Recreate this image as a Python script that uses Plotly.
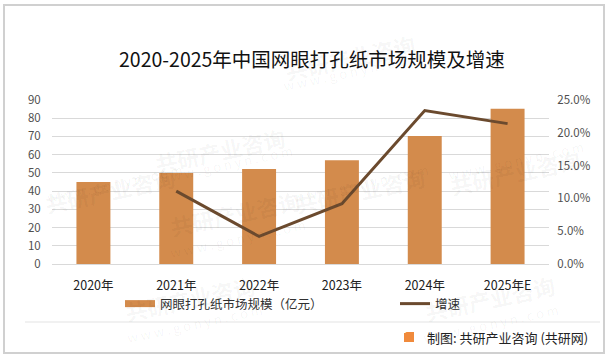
import plotly.graph_objects as go

categories = ["2020年", "2021年", "2022年", "2023年", "2024年", "2025年E"]
market_size = [45.0, 50.0, 52.1, 56.9, 70.2, 85.2]
growth_cats = ["2021年", "2022年", "2023年", "2024年", "2025年E"]
growth_rate = [0.111, 0.042, 0.092, 0.234, 0.214]

bar_name = "网眼打孔纸市场规模（亿元）"
line_name = "增速"
title_text = "2020-2025年中国网眼打孔纸市场规模及增速"
source_text = "制图: 共研产业咨询 (共研网)"

FONT = "Noto Sans CJK SC"
BAR_COLOR = "#D38B4C"
LINE_COLOR = "#6B4A2E"

# plot area in pixels: x 52..549, y 100..264
L, R, T, B = 52, 549, 100, 264
def px(x):
    return (x - L) / (R - L)
def py(y):
    return (B - y) / (B - T)

fig = go.Figure()
fig.add_trace(go.Bar(
    x=categories, y=market_size, name=bar_name,
    marker=dict(color=BAR_COLOR, line=dict(width=0)),
    yaxis="y", showlegend=False,
))
# legend proxy for the bar series (wide flat swatch as in the reference)
fig.add_trace(go.Scatter(
    x=[None], y=[None], name=bar_name, mode="lines",
    line=dict(color=BAR_COLOR, width=7), legend="legend", showlegend=True,
))
fig.add_trace(go.Scatter(
    x=growth_cats, y=growth_rate, name=line_name, mode="lines",
    line=dict(color=LINE_COLOR, width=3),
    yaxis="y2", legend="legend2", showlegend=True,
))

wm = []
for (x, y) in [(150, 118), (420, 25), (235, 245), (430, 190), (585, 140), (40, 190), (120, 330), (560, 330)]:
    wm.append(dict(xref="paper", yref="paper", x=px(x), y=py(y), text="<b>共研产业咨询</b>",
                   showarrow=False, textangle=-12,
                   font=dict(size=22, color="rgba(0,0,0,0.045)", family=FONT)))
    wm.append(dict(xref="paper", yref="paper", x=px(x + 3), y=py(y + 20), text="w w w . g o n y n . c o m",
                   showarrow=False, textangle=-12,
                   font=dict(size=13, color="rgba(0,0,0,0.045)", family=FONT)))

fig.update_layout(
    width=610, height=360,
    margin=dict(l=L, r=610 - R, t=T, b=360 - B, autoexpand=False),
    paper_bgcolor="white", plot_bgcolor="white",
    font=dict(family=FONT, color="#404040"),
    bargap=0.59,
    showlegend=True,
    legend=dict(orientation="h", x=px(120), xanchor="left", y=py(304), yanchor="middle",
                font=dict(size=12.5, color="#303030", family=FONT),
                itemwidth=30, bgcolor="rgba(0,0,0,0)"),
    legend2=dict(orientation="h", x=px(395), xanchor="left", y=py(304), yanchor="middle",
                 font=dict(size=12.5, color="#303030", family=FONT),
                 itemwidth=30, bgcolor="rgba(0,0,0,0)"),
    xaxis=dict(showgrid=False, showline=True, linecolor="#D9D9D9", linewidth=1,
               ticks="", ticklabelstandoff=10,
               tickfont=dict(size=12.5, color="#202020", family=FONT)),
    yaxis=dict(range=[0, 90], dtick=10, showgrid=True, gridcolor="#D9D9D9", gridwidth=1,
               zeroline=False, showline=False,
               ticks="outside", ticklen=8, tickcolor="rgba(0,0,0,0)",
               tickfont=dict(size=11.5, color="#505050", family=FONT)),
    yaxis2=dict(range=[0, 0.25], dtick=0.05, overlaying="y", side="right",
                tickformat=".1%", showgrid=False, zeroline=False, showline=False,
                ticks="outside", ticklen=5, tickcolor="rgba(0,0,0,0)",
                tickfont=dict(size=11.5, color="#505050", family=FONT)),
    shapes=[
        dict(type="rect", xref="paper", yref="paper", x0=px(4), x1=px(604), y0=py(353), y1=py(5),
             line=dict(color="#D0D0D0", width=2), fillcolor="rgba(0,0,0,0)", layer="above"),
        dict(type="line", xref="paper", yref="paper", x0=px(25), x1=px(600), y0=py(322), y1=py(322),
             line=dict(color="#E3E3E3", width=1)),
        dict(type="rect", xref="paper", yref="paper", x0=px(404), x1=px(414), y0=py(342), y1=py(332),
             line=dict(width=0), fillcolor="#F08A3C"),
    ],
    annotations=wm + [
        dict(xref="paper", yref="paper", x=px(312), y=py(58), xanchor="center", yanchor="middle",
             text=title_text, showarrow=False,
             font=dict(size=19.5, color="#111111", family=FONT)),
        dict(xref="paper", yref="paper", x=px(409), y=py(337), text="<b>G</b>", showarrow=False,
             font=dict(size=8, color="white", family=FONT)),
        dict(xref="paper", yref="paper", x=px(425), y=py(337), xanchor="left", yanchor="middle",
             text=source_text, showarrow=False,
             font=dict(size=13, color="#222222", family=FONT)),
    ],
)

fig.write_html("out.html", config={"displayModeBar": False},
               post_script="document.body.style.margin='0';document.body.style.overflow='hidden';")
